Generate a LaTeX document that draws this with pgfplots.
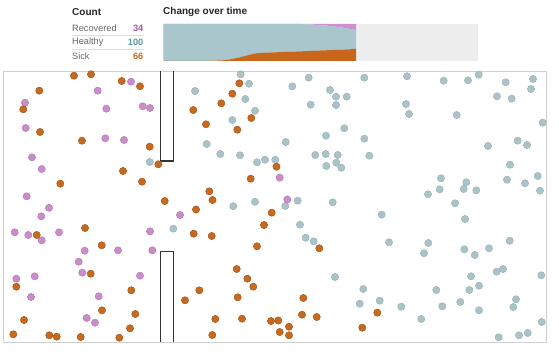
\documentclass[border=0pt]{standalone}
\usepackage{pgfplots}
\pgfplotsset{compat=1.18}
\usepackage{fontspec}
\setmainfont{Liberation Sans}
\definecolor{sick}{HTML}{C8691E}
\definecolor{sickdk}{HTML}{A9561A}
\definecolor{healthy}{HTML}{AAC3C8}
\definecolor{healthydk}{HTML}{9BB3B8}
\definecolor{rec}{HTML}{C98DC9}
\definecolor{recdk}{HTML}{B77BB7}
\definecolor{areaB}{HTML}{A9C6CC}
\definecolor{areaO}{HTML}{C8661C}
\definecolor{areaP}{HTML}{D08FD0}
\definecolor{bggray}{HTML}{EDEDED}
\definecolor{boxgray}{HTML}{CFCFCF}
\definecolor{wall}{HTML}{333333}
\definecolor{numP}{HTML}{A855A8}
\definecolor{numB}{HTML}{5A98A5}
\definecolor{numO}{HTML}{C8691E}
\definecolor{lbl}{HTML}{666666}
\definecolor{sep}{HTML}{DDDDDD}
\begin{document}
\begin{tikzpicture}
\path[use as bounding box] (0pt,0pt) rectangle (559pt,351pt);
% main simulation box
\begin{axis}[at={(275.25pt,144.5pt)}, anchor=center,
  width=542.5pt, height=271pt, scale only axis,
  xmin=4, xmax=546.5, ymin=71, ymax=342, y dir=reverse,
  enlargelimits=false, xtick=\empty, ytick=\empty,
  axis line style={draw=boxgray, line width=1pt}, clip=false]
\addplot[wall, line width=1.5pt, sharp plot, mark=none] coordinates {(160.5,71) (160.5,161) (173.5,161) (173.5,71)};
\addplot[wall, line width=1.5pt, sharp plot, mark=none] coordinates {(160.5,342) (160.5,251.5) (173.5,251.5) (173.5,342)};
% healthy
\addplot[only marks, mark=*, mark size=3.6pt, mark options={fill=healthy, draw=healthydk, line width=0.5pt}] coordinates {
(149.7,162) (173.3,228.7) (240.7,74.3) (249,83.7) (195,91) (245.3,99) (255,110.7) (232.3,120)
(206.7,144) (220.3,154) (240,155.3) (257,162.3) (265,159.7) (275.3,159.8) (255,201.8) (233.3,206.2)
(308.7,77.7) (292.3,86.3) (364.3,77.7) (407,76.3) (443.7,80.7) (468,80.3) (478.7,74.7) (505.7,82.3)
(533,79) (531,89) (330,90) (336,96.7) (346.7,96.7) (497,96.3) (511.7,98.7) (310.7,104.7)
(336,105) (406,104) (409,114) (456.7,115) (542.7,122.7) (344.3,128.3) (326,135.7) (364.3,138.7)
(285.7,142) (488,146) (517.7,140.7) (527,145) (315.3,155) (325.7,154) (337.7,155) (369.3,155.7)
(326.3,166) (336.3,162.7) (341.3,167.7) (510,164.7) (441,178.3) (466.3,182.3) (439.7,189.3) (463.7,189)
(476.3,190.3) (428,194.3) (507,179.7) (525,183.3) (537.7,176) (540,190.7) (297.7,200.7) (285.3,206)
(332.7,202.3) (455,203.3) (381.7,214.7) (465,219) (300,224.7) (305.7,237.7) (313.7,241.3) (389,242.3)
(428.3,243) (424,253.3) (464.3,249.3) (474.7,255) (489,248.3) (509.7,240.7) (335,277) (363.3,289)
(471,276.3) (496.7,271.7) (503,269) (541.3,275.3) (436.3,290) (469.3,290) (479,285.7) (516,299.3)
(513.3,307) (359.7,303.7) (379.7,300.7) (401.3,306.7) (442.3,306.3) (460.3,302) (479,310.3) (421.3,319)
(498.7,337.3) (519,335.3) (527.7,333) (541.7,322)
};
% recovered
\addplot[only marks, mark=*, mark size=3.6pt, mark options={fill=rec, draw=recdk, line width=0.5pt}] coordinates {
(131,81.7) (97.7,90.7) (25,102.7) (106.3,108.7) (142.7,106.3) (150,108) (25.7,128) (105.3,138.3)
(124,140) (32,157.3) (41.7,169) (26.7,196.3) (49,207.8) (41.3,216.3) (180,215) (14.7,232.3)
(28.3,235) (41.7,240.3) (59,232.3) (150,231.3) (84.7,250.7) (118,250.3) (152.3,250.3) (78.7,261.7)
(82.3,272.7) (16.3,278.7) (34.7,276.3) (140,275.7) (31,297) (98.7,296.3) (86.7,318) (95,322.7)
(279.7,177.7) (287.3,199.5)
};
% sick
\addplot[only marks, mark=*, mark size=3.6pt, mark options={fill=sick, draw=sickdk, line width=0.5pt}] coordinates {
(74,75.7) (91,74.3) (121.7,81) (140,86.3) (39.3,90.7) (23.3,109.3) (40,132) (82,140.7)
(149.7,146.7) (158.3,164.3) (123,171) (60.3,183.7) (142,181.7) (164.7,201) (239.3,83.3) (232.3,93.7)
(221.3,103.3) (193.3,110) (251.3,118) (206,124.3) (237.3,129.7) (276.5,166.7) (250.7,178.7) (209.3,191.3)
(212.5,200) (196,209.5) (271.7,212.7) (264,225) (36.7,235) (85,228) (193.7,233.7) (211.7,236)
(257,246.3) (101.7,245.3) (90.7,273.7) (16.3,286.7) (236.7,269) (247.3,278.7) (253.3,286.7) (131.3,290.3)
(199.3,290.3) (185,300.3) (237.7,297.3) (102,310.3) (135.3,314) (24,320) (215.3,319) (242,318.7)
(271,321) (278.3,320.5) (130,328.3) (279.7,332) (13.3,334.3) (49.3,335.3) (56.7,336.7) (80.7,337)
(119.3,337.7) (212.3,335) (319.3,248.3) (303.3,298) (302,314.7) (316.7,317) (377.3,312.7) (289,326.7)
(289,335.3) (362.3,327.7)
};
\end{axis}
% change over time
\begin{axis}[at={(320.5pt,308.5pt)}, anchor=center,
  width=314.4pt, height=37pt, scale only axis,
  xmin=0, xmax=100, ymin=0, ymax=200, enlargelimits=false,
  xtick=\empty, ytick=\empty, axis line style={draw=none},
  axis background/.style={fill=bggray}, stack plots=y]
\addplot[fill=areaO, draw=none] coordinates {
(0,0) (10,0) (13.8,0.5) (16,1.5) (19.1,4) (21,8) (24.4,20) (27,32) (29.7,42) (33,45) (37,48) (41.4,51) (43.5,52) (47,55) (52,58) (56,61) (59,63) (61.3,66)} \closedcycle;
\addplot[fill=areaB, draw=none] coordinates {
(0,200) (10,200) (13.8,199.5) (16,198.5) (19.1,196) (21,192) (24.4,180) (27,168) (29.7,158) (33,155) (37,152) (41.4,149) (43.5,148) (47,142) (52,133) (56,122) (59,112) (61.3,100)} \closedcycle;
\addplot[fill=areaP, draw=none] coordinates {
(0,0) (10,0) (13.8,0) (16,0) (19.1,0) (21,0) (24.4,0) (27,0) (29.7,0) (33,0) (37,0) (41.4,0) (43.5,0) (47,3) (52,9) (56,17) (59,25) (61.3,34)} \closedcycle;
\end{axis}
% headings and counts
\node[anchor=west, font=\fontsize{10}{12}\selectfont\bfseries, text=black!85, inner sep=0pt] at (72pt,339pt) {Count};
\node[anchor=west, font=\fontsize{10}{12}\selectfont\bfseries, text=black!85, inner sep=0pt] at (163pt,339pt) {Change over time};
\draw[sep, line width=0.6pt] (72pt,315.5pt) -- (143.5pt,315.5pt);
\draw[sep, line width=0.6pt] (72pt,301.5pt) -- (143.5pt,301.5pt);
\node[anchor=west, font=\fontsize{9.2}{11}\selectfont, text=lbl, inner sep=0pt] at (72pt,322.5pt) {Recovered};
\node[anchor=west, font=\fontsize{9.2}{11}\selectfont, text=lbl, inner sep=0pt] at (72pt,308.5pt) {Healthy};
\node[anchor=west, font=\fontsize{9.2}{11}\selectfont, text=lbl, inner sep=0pt] at (72pt,295pt) {Sick};
\node[anchor=east, font=\fontsize{9.2}{11}\selectfont\bfseries, text=numP, inner sep=0pt] at (143.5pt,322.5pt) {34};
\node[anchor=east, font=\fontsize{9.2}{11}\selectfont\bfseries, text=numB, inner sep=0pt] at (143.5pt,308.5pt) {100};
\node[anchor=east, font=\fontsize{9.2}{11}\selectfont\bfseries, text=numO, inner sep=0pt] at (143.5pt,295pt) {66};
\end{tikzpicture}
\end{document}
